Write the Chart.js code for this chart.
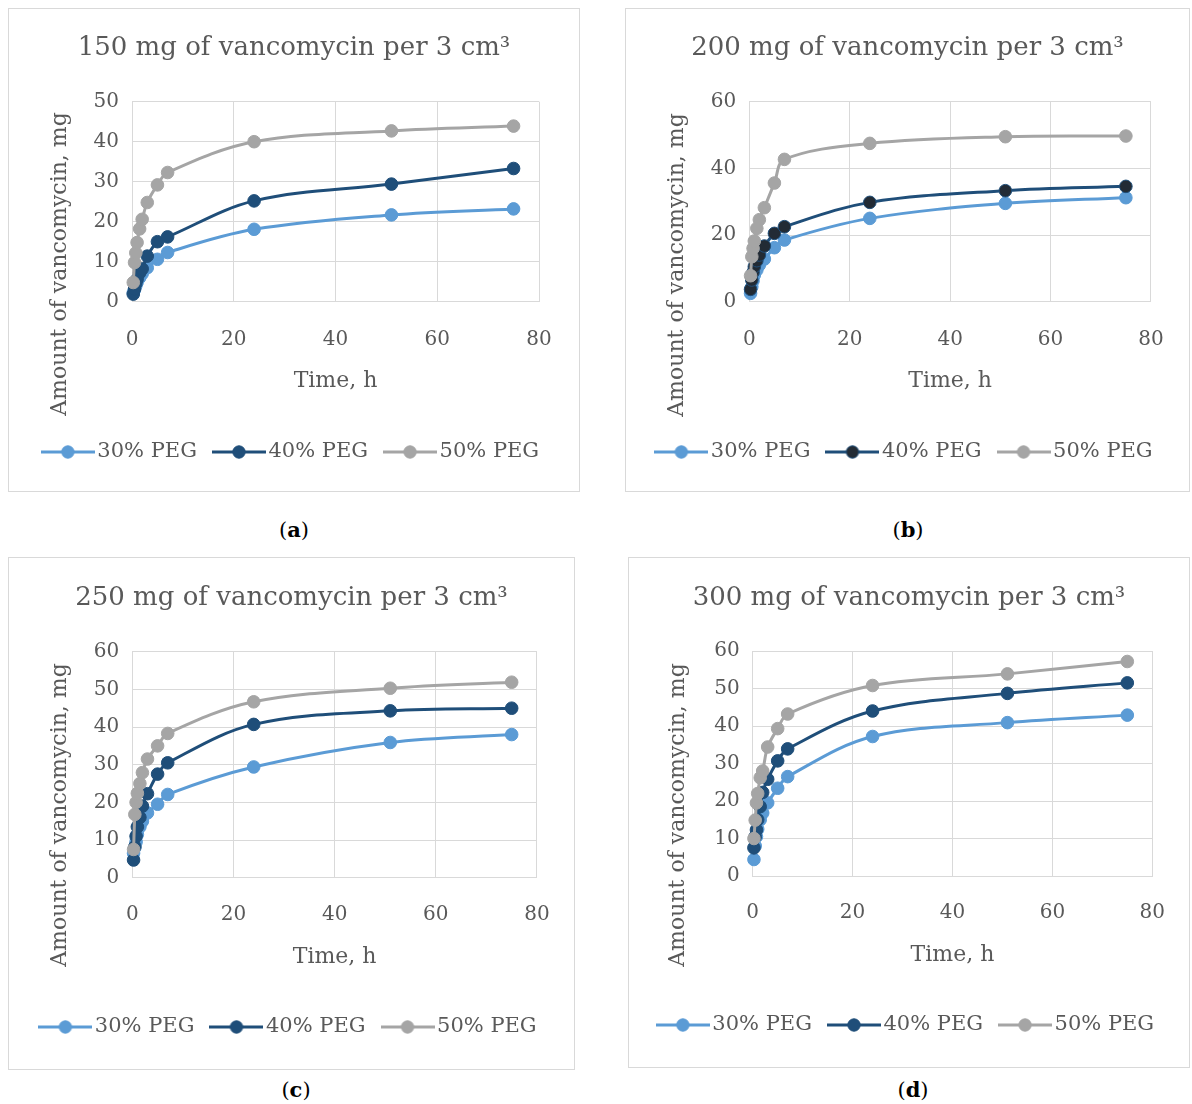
<!DOCTYPE html>
<html>
<head>
<meta charset="utf-8">
<title>Vancomycin release</title>
<script src="https://cdn.jsdelivr.net/npm/chart.js@4.4.1/dist/chart.umd.min.js"></script>
<style>
  html, body { margin: 0; padding: 0; background: #fff; width: 1192px; height: 1104px; overflow: hidden; }
  .box { position: absolute; border: 1.5px solid #d9d9d9; box-sizing: border-box; }
  canvas { position: absolute; }
  .cap { position: absolute; width: 80px; margin-left: -40px; margin-top: -13px; text-align: center;
         font-family: "DejaVu Serif", serif; font-size: 21px; line-height: 26px; color: #000; }
</style>
</head>
<body>
<script>
  // sampling times, h
  const hours = [0.25, 0.5, 0.75, 1, 1.5, 2, 3, 5, 7, 24, 51, 75];
  const seriesNames = ['30% PEG', '40% PEG', '50% PEG'];
  const xTicks = [0, 20, 40, 60, 80];

  // (a) 150 mg
  const a30 = [2.2, 3.0, 4.0, 4.8, 6.0, 7.0, 8.5, 10.6, 12.3, 18.1, 21.7, 23.2];
  const a40 = [1.9, 3.2, 4.5, 5.6, 7.2, 8.2, 11.4, 15.0, 16.2, 25.2, 29.4, 33.3];
  const a50 = [4.8, 9.8, 12.2, 14.8, 18.2, 20.6, 24.8, 29.2, 32.3, 40.0, 42.7, 43.9];
  // (b) 200 mg
  const b30 = [2.5, 4.5, 6.3, 8.0, 9.5, 11.0, 12.8, 16.2, 18.5, 25.0, 29.5, 31.2];
  const b40 = [3.7, 6.5, 8.8, 10.5, 12.3, 14.0, 16.7, 20.5, 22.5, 29.8, 33.3, 34.6];
  const b50 = [7.8, 13.5, 16.0, 18.2, 22.0, 24.6, 28.2, 35.6, 42.7, 47.5, 49.5, 49.7];
  // (c) 250 mg
  const c30 = [6.5, 8.0, 9.5, 11.5, 13.5, 15.0, 17.2, 19.5, 22.1, 29.4, 35.9, 38.0];
  const c40 = [4.7, 8.2, 11.0, 13.5, 16.0, 19.0, 22.3, 27.5, 30.5, 40.7, 44.3, 45.0];
  const c50 = [7.5, 16.8, 20.0, 22.4, 25.0, 27.9, 31.5, 35.0, 38.3, 46.7, 50.3, 51.9];
  // (d) 300 mg
  const d30 = [4.4, 8.0, 10.5, 12.5, 15.0, 16.8, 19.5, 23.4, 26.5, 37.2, 40.9, 42.9];
  const d40 = [7.5, 10.5, 12.3, 15.0, 18.5, 22.3, 25.8, 30.7, 33.9, 44.0, 48.7, 51.5];
  const d50 = [10.0, 14.9, 19.5, 22.0, 26.2, 28.0, 34.4, 39.3, 43.2, 50.8, 53.9, 57.2];

  const panels = [
    { title: '150 mg of vancomycin per 3 cm³', series: [a30, a40, a50], yMax: 50, yStep: 10, cap: 'a',
      box: [8, 8, 572, 484], area: [132, 101.7, 539, 301.7], titleY: 48, tickY: 340, xTitleY: 381, legendY: 452, yTitle: [60, 264], capPos: [294, 530] },
    { title: '200 mg of vancomycin per 3 cm³', series: [b30, b40, b50], yMax: 60, yStep: 20, cap: 'b', darkFill: '#222b35',
      box: [625, 8, 565, 484], area: [749.3, 101.7, 1153.3, 301.7], titleY: 48, tickY: 340, xTitleY: 381, legendY: 452, yTitle: [677, 265], capPos: [908, 530] },
    { title: '250 mg of vancomycin per 3 cm³', series: [c30, c40, c50], yMax: 60, yStep: 10, cap: 'c',
      box: [8, 557, 567, 513], area: [132.3, 651.7, 547.7, 877.7], titleY: 598, tickY: 915, xTitleY: 957, legendY: 1027, yTitle: [60, 815], capPos: [296, 1090] },
    { title: '300 mg of vancomycin per 3 cm³', series: [d30, d40, d50], yMax: 60, yStep: 10, cap: 'd',
      box: [628, 557, 562, 511], area: [752.7, 651, 1155.3, 876], titleY: 598, tickY: 913, xTitleY: 955, legendY: 1025, yTitle: [678, 815], capPos: [913, 1090] },
  ];

  const colors = ['#5b9bd5', '#1f4e79', '#a5a5a5'];
  const txt = '#595959';
  const gridCol = '#d9d9d9';
  Chart.defaults.font.family = "'DejaVu Serif', serif";
  Chart.defaults.color = txt;

  const yTitlePlugin = {
    id: 'yTitle',
    afterDraw(chart, args, o) {
      const g = chart.ctx;
      g.save();
      g.translate(o.x, o.y);
      g.rotate(-Math.PI / 2);
      g.font = "22px 'DejaVu Serif'";
      g.fillStyle = txt;
      g.textAlign = 'center';
      g.textBaseline = 'middle';
      g.fillText(o.text, 0, 0);
      g.restore();
    }
  };

  function legendIcon(stroke, fill) {
    const c = document.createElement('canvas');
    c.width = 54; c.height = 16;
    const g = c.getContext('2d');
    g.strokeStyle = stroke; g.lineWidth = 3;
    g.beginPath(); g.moveTo(0, 8); g.lineTo(54, 8); g.stroke();
    g.beginPath(); g.arc(27, 8, 6.2, 0, 2 * Math.PI);
    g.fillStyle = fill; g.fill(); g.lineWidth = 1; g.stroke();
    return c;
  }

  panels.forEach(p => {
    const [bx, by, bw, bh] = p.box;
    const box = document.createElement('div');
    box.className = 'box';
    Object.assign(box.style, { left: bx + 'px', top: by + 'px', width: bw + 'px', height: bh + 'px' });
    document.body.appendChild(box);

    const cv = document.createElement('canvas');
    cv.width = bw; cv.height = bh;
    Object.assign(cv.style, { left: bx + 'px', top: by + 'px' });
    document.body.appendChild(cv);

    const cap = document.createElement('div');
    cap.className = 'cap';
    cap.innerHTML = '(<b>' + p.cap + '</b>)';
    Object.assign(cap.style, { left: p.capPos[0] + 'px', top: p.capPos[1] + 'px' });
    document.body.appendChild(cap);

    // layout numbers relative to the canvas
    const L = p.area[0] - bx, T = p.area[1] - by, R = bx + bw - p.area[2], B = p.area[3] - by;
    const tSize = 26, tLH = tSize * 1.2, tc = p.titleY - by;
    const legFont = 21, legPad = 23;
    const legTop = p.legendY - by - legPad - legFont / 2;
    const legH = legFont + legPad + 10;
    const xH = legTop - B;
    const xTitleSize = 22;
    const xTitlePadB = xH - (p.xTitleY - p.area[3]) - xTitleSize * 1.2 / 2;
    const tickPad = (p.tickY - p.area[3]) - 12;

    const fills = [colors[0], p.darkFill || colors[1], colors[2]];
    const icons = colors.map((c, i) => legendIcon(c, fills[i]));

    const datasets = p.series.map((vals, i) => ({
      label: seriesNames[i],
      data: hours.map((h, k) => ({ x: h, y: vals[k] })),
      borderColor: colors[i],
      backgroundColor: fills[i],
      pointBackgroundColor: fills[i],
      pointBorderColor: colors[i],
      borderWidth: 3,
      pointRadius: 6.3,
      pointBorderWidth: 1,
      tension: 0.35,
      clip: false,
      order: 2 - i,
    }));

    new Chart(cv, {
      type: 'line',
      data: { datasets },
      plugins: [yTitlePlugin],
      options: {
        responsive: false,
        animation: false,
        devicePixelRatio: 1,
        layout: { padding: { left: 0, right: 0, top: 0, bottom: bh - legTop - legH } },
        scales: {
          x: {
            type: 'linear', min: 0, max: 80,
            afterBuildTicks: s => { s.ticks = xTicks.map(v => ({ value: v })); },
            afterFit: s => { s.height = xH; },
            grid: { color: gridCol, drawTicks: false },
            border: { color: gridCol },
            ticks: { padding: tickPad, font: { size: 20 }, color: txt },
            title: { display: true, text: 'Time, h', font: { size: xTitleSize }, color: txt,
                     padding: { top: 0, bottom: xTitlePadB } },
          },
          y: {
            type: 'linear', min: 0, max: p.yMax,
            afterFit: s => { s.width = L; },
            grid: { color: gridCol, drawTicks: false },
            border: { color: gridCol },
            ticks: { stepSize: p.yStep, padding: 13, font: { size: 20 }, color: txt },
          },
          yr: {
            type: 'linear', position: 'right', display: true,
            afterFit: s => { s.width = R; },
            grid: { display: false }, border: { display: false }, ticks: { display: false },
          },
        },
        plugins: {
          title: { display: true, text: p.title, color: txt, font: { size: tSize, weight: 'normal' },
                   padding: { top: tc - tLH / 2, bottom: T - tc - tLH / 2 } },
          legend: {
            position: 'bottom',
            labels: {
              usePointStyle: true, pointStyleWidth: 38, padding: legPad,
              font: { size: legFont }, color: txt,
              sort: (a, b) => a.datasetIndex - b.datasetIndex,
              generateLabels: chart => Chart.defaults.plugins.legend.labels.generateLabels(chart)
                .map(it => Object.assign(it, { pointStyle: icons[it.datasetIndex] })),
            },
          },
          tooltip: { enabled: false },
          yTitle: { x: p.yTitle[0] - bx, y: p.yTitle[1] - by, text: 'Amount of vancomycin, mg' },
        },
      },
    });
  });
</script>
</body>
</html>
